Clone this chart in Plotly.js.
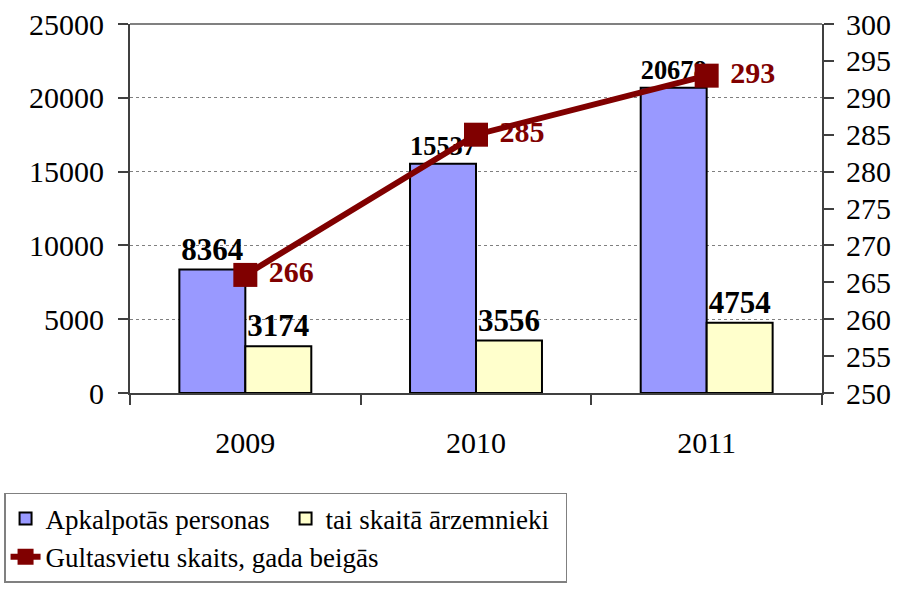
<!DOCTYPE html>
<html><head><meta charset="utf-8">
<script src="https://cdn.plot.ly/plotly-3.0.1.min.js"></script>
<style>html,body{margin:0;padding:0;background:#fff}</style>
</head><body><div id="chart" style="width:899px;height:589px"></div>
<script>
const years = ['2009', '2010', '2011'];
const servedPersons = [8364, 15537, 20678];
const foreigners = [3174, 3556, 4754];
const beds = [266, 285, 293];
const seriesNames = ['Apkalpotās personas', 'tai skaitā ārzemnieki', 'Gultasvietu skaits, gada beigās'];
const leftTicks = [0, 5000, 10000, 15000, 20000, 25000];
const rightTicks = [250, 255, 260, 265, 270, 275, 280, 285, 290, 295, 300];

const FONT = 'Liberation Serif';

const traces = [
  {
    type: 'bar', name: seriesNames[0], x: years, y: servedPersons,
    marker: {color: '#9999FF', line: {color: '#000000', width: 2}},
    text: servedPersons.map(String), textposition: 'outside', cliponaxis: false,
    textfont: {family: FONT, size: 31, color: '#000000', weight: 'bold'},
    legendwidth: 235, hoverinfo: 'x+y'
  },
  {
    type: 'bar', name: seriesNames[1], x: years, y: foreigners,
    marker: {color: '#FFFFCC', line: {color: '#000000', width: 2}},
    text: foreigners.map(String), textposition: 'outside', cliponaxis: false,
    textfont: {family: FONT, size: 31, color: '#000000', weight: 'bold'},
    legendwidth: 235, hoverinfo: 'x+y'
  },
  {
    type: 'scatter', mode: 'lines+markers+text', name: seriesNames[2], x: years, y: beds,
    yaxis: 'y2',
    line: {color: '#800000', width: 6},
    marker: {color: '#800000', symbol: 'square', size: 24},
    text: beds.map(v => '\u00a0' + v), textposition: 'middle right', cliponaxis: false,
    textfont: {family: FONT, size: 30, color: '#800000', weight: 'bold'},
    legendwidth: 235
  }
];

const layout = {
  width: 899, height: 589,
  margin: {l: 130, r: 77, t: 24, b: 196, autoexpand: false},
  paper_bgcolor: '#ffffff', plot_bgcolor: '#ffffff',
  font: {family: FONT, size: 30, color: '#000000'},
  barmode: 'group', bargap: 0.428, bargroupgap: 0,
  showlegend: true,
  legend: {
    orientation: 'h', x: -0.182, xanchor: 'left', y: -0.271, yanchor: 'top',
    bgcolor: '#ffffff', bordercolor: '#808080', borderwidth: 1.5,
    font: {family: FONT, size: 27, color: '#000000'},
    traceorder: 'normal'
  },
  xaxis: {
    type: 'category', showgrid: false, showline: true, linecolor: '#404040', linewidth: 2,
    ticks: 'outside', ticklen: 10, tickcolor: '#404040', tickwidth: 2, tickson: 'boundaries',
    ticklabelstandoff: 22
  },
  yaxis: {
    range: [0, 25000], tickvals: leftTicks, ticktext: leftTicks.map(String),
    showgrid: true, gridcolor: '#808080', griddash: 'dot', gridwidth: 1,
    zeroline: false, showline: true, linecolor: '#404040', linewidth: 2,
    ticks: 'outside', ticklen: 10, tickcolor: '#404040', tickwidth: 2,
    ticklabelstandoff: 8
  },
  yaxis2: {
    overlaying: 'y', side: 'right', range: [250, 300],
    tickvals: rightTicks, ticktext: rightTicks.map(String),
    showgrid: false, zeroline: false, showline: true, linecolor: '#404040', linewidth: 2,
    ticks: 'outside', ticklen: 10, tickcolor: '#404040', tickwidth: 2,
    ticklabelstandoff: 6
  },
  shapes: [
    {type: 'line', xref: 'paper', yref: 'paper', x0: 0, x1: 1, y0: 1, y1: 1,
     line: {color: '#808080', width: 2}}
  ]
};

Plotly.newPlot('chart', traces, layout, {displayModeBar: false});
</script></body></html>
